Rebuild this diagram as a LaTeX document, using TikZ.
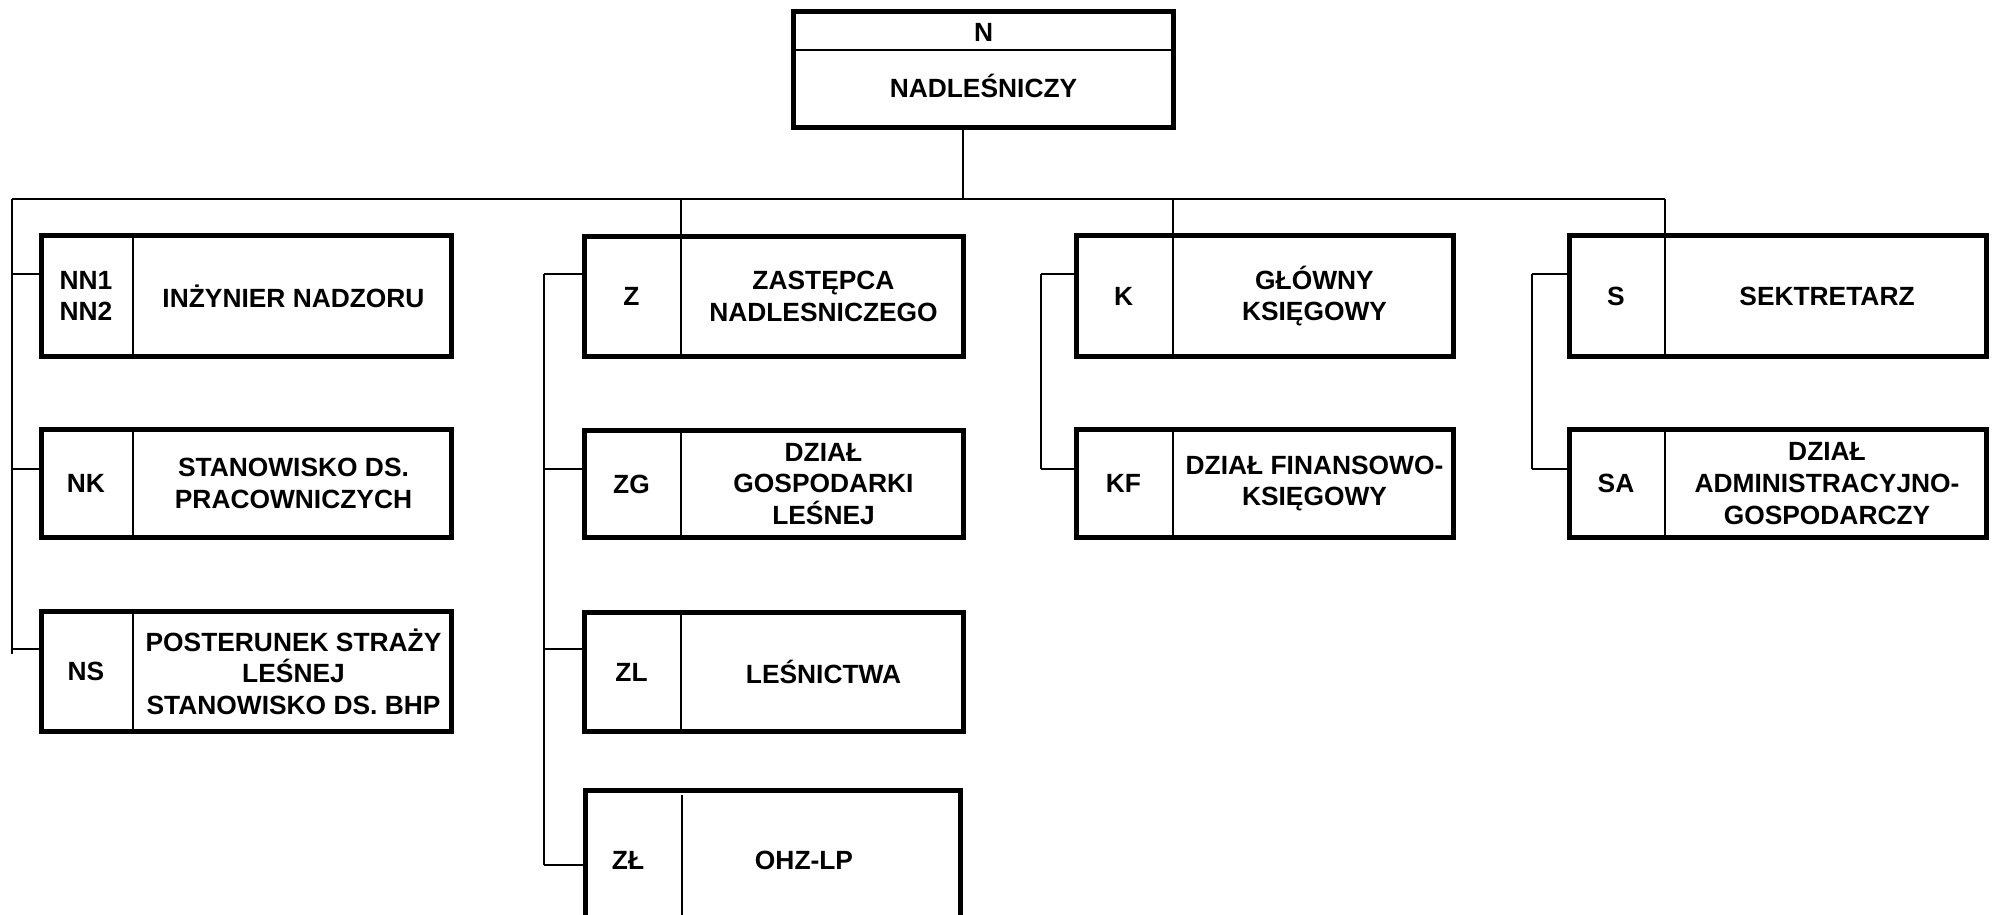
\documentclass[tikz,border=0pt]{standalone}
\usepackage{fontspec}
\setmainfont{Liberation Sans}
\usetikzlibrary{fit}
\tikzset{
  frame/.style={draw, line width=2.85pt, inner sep=0pt},
  thinline/.style={line width=1.1pt},
  conn/.style={line width=1.1pt},
  txt/.style={font=\fontsize{15}{18}\selectfont\bfseries, align=center, inner sep=0pt},
}
\newcommand\orgbox[8]{%
  \node[frame, fit={(#2+2.5,#3+2.5) (#4-2.5,#5-2.5)}] (#1) {};
  \draw[thinline] (#6,#3) -- (#6,#5);
  \node[txt] (#1-code) at ({(#2+#6)/2},{(#3+#5)/2}) {#7};
  \node[txt] (#1-label) at ({(#6+#4)/2},{(#3+#5)/2}) {#8};
}
\begin{document}
\begin{tikzpicture}[x=0.02cm, y=-0.02cm]
\useasboundingbox[fill=white] (0,0) rectangle (1993,914);
% top box
\node[frame, fit={(793.5,11.5) (1173.5,127.5)}] (N) {};
\draw[thinline] (793.5,50) -- (1173.5,50);
\node[txt, anchor=base] (N-code) at (983.5,41.5) {N};
\node[txt, anchor=base] (N-label) at (983.5,97) {NADLEŚNICZY};
% boxes
\orgbox{NN}{39}{233}{454}{359}{133}{NN1\\NN2}{INŻYNIER NADZORU}
\orgbox{NK}{39}{427}{454}{540}{133}{NK}{STANOWISKO DS.\\PRACOWNICZYCH}
\orgbox{NS}{39}{609}{454}{734}{133}{NS}{POSTERUNEK STRAŻY\\LEŚNEJ\\STANOWISKO DS. BHP}
\orgbox{Z}{582}{234}{966}{359}{681}{Z}{ZASTĘPCA\\NADLESNICZEGO}
\orgbox{ZG}{582}{428}{966}{540}{681}{ZG}{DZIAŁ\\GOSPODARKI\\LEŚNEJ}
\orgbox{ZL}{582}{610}{966}{734}{681}{ZL}{LEŚNICTWA}
\orgbox{K}{1074}{233}{1456}{359}{1173}{K}{GŁÓWNY\\KSIĘGOWY}
\orgbox{KF}{1074}{427}{1456}{540}{1173}{KF}{DZIAŁ FINANSOWO-\\KSIĘGOWY}
\orgbox{S}{1567}{233}{1989}{359}{1665}{S}{SEKTRETARZ}
\orgbox{SA}{1567}{427}{1989}{540}{1665}{SA}{DZIAŁ\\ADMINISTRACYJNO-\\GOSPODARCZY}
% ZŁ box (cut by the page edge)
\node[frame, fit={(585.5,790.5) (960.5,945)}] (ZLL) {};
\draw[thinline] (682,795) -- (682,945);
\node[txt] (ZLL-code) at (628,860) {ZŁ};
\node[txt] (ZLL-label) at (804,860) {OHZ-LP};
% bus
\coordinate (njoin) at (963,199);
\coordinate (busL) at (12,199);
\coordinate (busR) at (1665,199);
\coordinate (zdrop) at (681,199);
\coordinate (kdrop) at (1173,199);
\draw[conn] (njoin |- N.south) -- (njoin);
\draw[conn] (busL) -- (busR);
\draw[conn] (zdrop) -- (zdrop |- Z.north);
\draw[conn] (kdrop) -- (kdrop |- K.north);
\draw[conn] (busR) -- (busR |- S.north);
% N column
\coordinate (tNN) at (12,274);
\coordinate (tNK) at (12,469);
\coordinate (tNS) at (12,649);
\coordinate (tNend) at (12,654);
\draw[conn] (busL) -- (tNend);
\draw[conn] (tNN) -- (tNN -| NN.west);
\draw[conn] (tNK) -- (tNK -| NK.west);
\draw[conn] (tNS) -- (tNS -| NS.west);
% Z column
\coordinate (tZ) at (544,274);
\coordinate (tZG) at (544,469);
\coordinate (tZL) at (544,649);
\coordinate (tZLL) at (544,865);
\draw[conn] (tZ) -- (tZLL);
\draw[conn] (tZ) -- (tZ -| Z.west);
\draw[conn] (tZG) -- (tZG -| ZG.west);
\draw[conn] (tZL) -- (tZL -| ZL.west);
\draw[conn] (tZLL) -- (tZLL -| ZLL.west);
% K column
\coordinate (tK) at (1041,274);
\coordinate (tKF) at (1041,469);
\draw[conn] (tK) -- (tKF);
\draw[conn] (tK) -- (tK -| K.west);
\draw[conn] (tKF) -- (tKF -| KF.west);
% S column
\coordinate (tS) at (1532,274);
\coordinate (tSA) at (1532,469);
\draw[conn] (tS) -- (tSA);
\draw[conn] (tS) -- (tS -| S.west);
\draw[conn] (tSA) -- (tSA -| SA.west);
\end{tikzpicture}
\end{document}
